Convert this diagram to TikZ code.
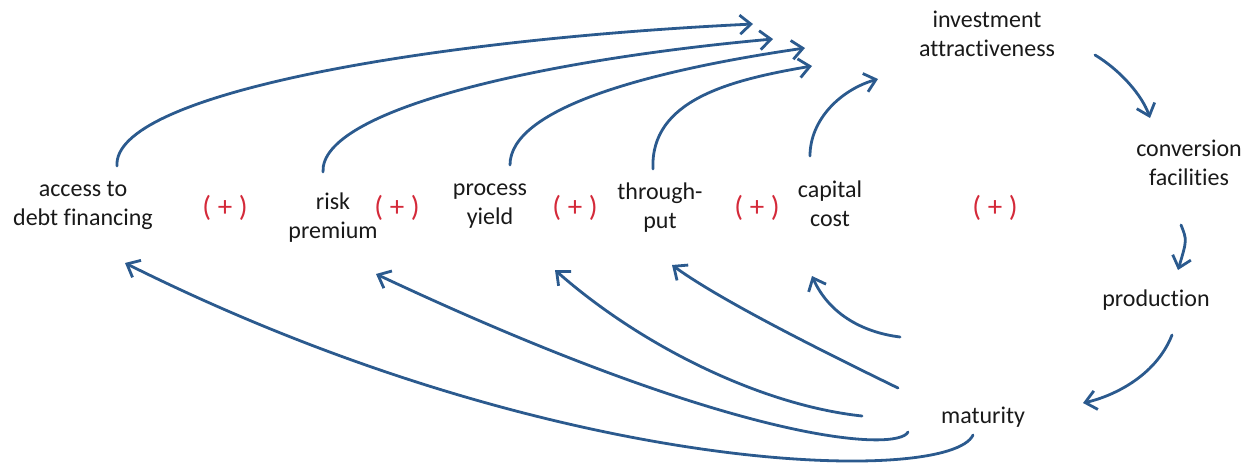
\documentclass[tikz,border=0pt]{standalone}
\usepackage{fontspec}
\setmainfont[Ligatures=NoCommon]{Carlito}
\usetikzlibrary{arrows.meta}
\definecolor{arrblue}{HTML}{2B5A8E}
\definecolor{plusred}{HTML}{D42A3A}
\begin{document}
\begin{tikzpicture}[x=1pt,y=-1pt,
  lbl/.style={align=center,font=\fontsize{24}{29}\selectfont,text=black!90,inner sep=1pt},
  plus/.style={font=\fontsize{29}{29}\selectfont,text=plusred},
  conn/.style={draw=arrblue,line width=2.8pt,line cap=round,
    -{Straight Barb[length=11pt,width=19pt,line width=2.8pt]}}]
\useasboundingbox (0,0) rectangle (1257,472);
% nodes
\node[lbl] (inv) at (987,34) {investment\\attractiveness};
\node[lbl] (conv) at (1189,163) {conversion\\facilities};
\node[lbl] (prod) at (1156,300) {production};
\node[lbl] (mat) at (983,417) {maturity};
\node[lbl] (cap) at (830,204) {capital\\cost};
\node[lbl] (thr) at (660,208) {through-\\put};
\node[lbl] (proc) at (490,206) {process\\yield};
\node[lbl] (risk) at (333,218) {risk\\premium};
\node[lbl] (acc) at (83,205) {access to\\debt financing};
\node[plus] (p1) at (225,208) {( + )};
\node[plus] (p2) at (397,208) {( + )};
\node[plus] (p3) at (575,208) {( + )};
\node[plus] (p4) at (757,208) {( + )};
\node[plus] (p5) at (995,208) {( + )};
% free ends
\coordinate (accT) at (117,166);
\coordinate (riskT) at (323,172);
\coordinate (procT) at (510,165);
\coordinate (thrT) at (653,169);
\coordinate (capT) at (810,156);
\coordinate (inv1) at (753,24);
\coordinate (inv2) at (773,39);
\coordinate (inv3) at (805,48);
\coordinate (inv4) at (812,66);
\coordinate (inv5) at (878,79);
\coordinate (accB) at (125,263);
\coordinate (riskB) at (376,274);
\coordinate (procB) at (555,270);
\coordinate (thrB) at (672,265);
\coordinate (capB) at (812,276);
\coordinate (m1) at (973,435);
\coordinate (m2) at (908,432);
\coordinate (m3) at (862,416);
\coordinate (m4) at (898,388);
\coordinate (m5) at (900,337);
\coordinate (invR) at (1095,55);
\coordinate (convT) at (1150,118);
\coordinate (convB) at (1181,225);
\coordinate (prodT) at (1178,270);
\coordinate (prodB) at (1172,335);
\coordinate (matR) at (1083,403);
% upper arrows
\draw[conn] (accT) .. controls (112,95) and (420,40) .. (inv1);
\draw[conn] (riskT) .. controls (320,110) and (540,60) .. (inv2);
\draw[conn] (procT) .. controls (510,110) and (640,72) .. (inv3);
\draw[conn] (thrT) .. controls (650,100) and (730,80) .. (inv4);
\draw[conn] (capT) .. controls (810,120) and (840,90) .. (inv5);
% lower arrows
\draw[conn] (m1) .. controls (950,485) and (560,480) .. (accB);
\draw[conn] (m2) .. controls (898,452) and (740,445) .. (riskB);
\draw[conn] (m3) .. controls (760,405) and (640,345) .. (procB);
\draw[conn] (m4) .. controls (820,350) and (720,300) .. (thrB);
\draw[conn] (m5) .. controls (860,332) and (828,312) .. (capB);
% cycle
\draw[conn] (invR) .. controls (1120,70) and (1142,95) .. (convT);
\draw[conn] (convB) .. controls (1187,240) .. (prodT);
\draw[conn] (prodB) .. controls (1155,378) and (1110,397) .. (matR);
\end{tikzpicture}
\end{document}
